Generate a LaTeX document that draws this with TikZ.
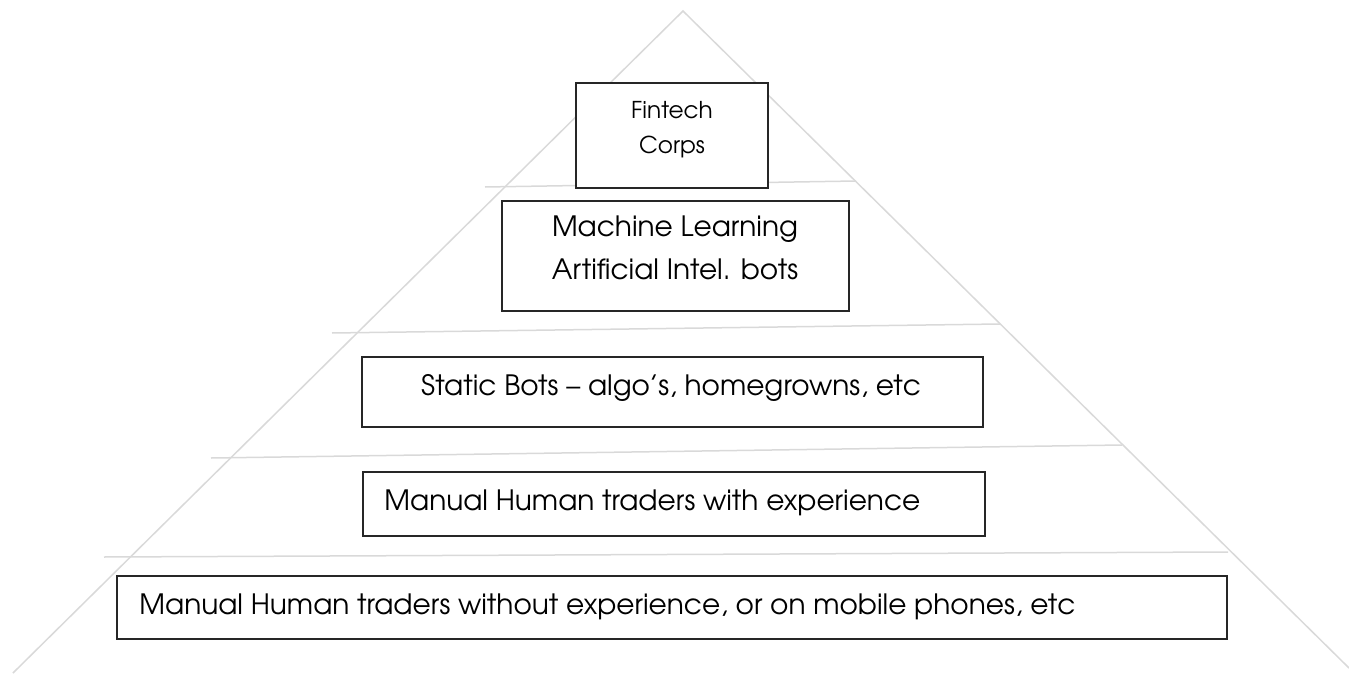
\documentclass[tikz,border=0pt]{standalone}
\usepackage{fontspec}
\setmainfont{texgyreadventor-regular.otf}
\usepackage{tikz}

\begin{document}
\begin{tikzpicture}[x=0.5pt, y=-0.5pt,
    tier/.style={draw=black!85, line width=0.6pt, fill=white, inner sep=0pt},
    tiertext/.style={inner sep=0pt, font=\fontsize{14}{21.5}\selectfont}]

    \colorlet{edgecolor}{black!15}
    \useasboundingbox (0,0) rectangle (1349,674);

    % pyramid outline
    \coordinate (apex) at (683,11);
    \coordinate (baseL) at (13,673);
    \coordinate (baseR) at (1349,668);
    \draw[edgecolor, line width=0.75pt] (baseL) -- (apex) -- (baseR);

    % tier separators
    \draw[edgecolor, line width=0.75pt] (485,187) -- (856,181)
        (332,333) -- (1000,324)
        (211,458) -- (1122,445)
        (104,557) -- (1228,552);

    % boxes
    \node[tier, minimum width=96pt, minimum height=52.5pt] (corps) at (672,135.5) {};
    \node[tier, minimum width=173.5pt, minimum height=55pt] (mlbots) at (675.5,256) {};
    \node[tier, minimum width=310.5pt, minimum height=35pt] (staticbots) at (672.5,392) {};
    \node[tier, minimum width=311pt, minimum height=32pt] (skilled) at (674,504) {};
    \node[tier, minimum width=555pt, minimum height=31.5pt] (novice) at (672,607.5) {};

    % labels
    \node[tiertext, align=center, font=\fontsize{11.6}{17.5}\selectfont] (corps-text) at (672,129.5) {Fintech\\Corps};
    \node[tiertext, align=center] (mlbots-text) at (675,248) {Machine Learning\\Artificial Intel. bots};
    \node[tiertext, anchor=base] (staticbots-text) at (671,395) {Static Bots – algo’s, homegrowns, etc};
    \node[tiertext, anchor=base west] (skilled-text) at (384,510) {Manual Human traders with experience};
    \node[tiertext, anchor=base west] (novice-text) at (139,614) {Manual Human traders without experience, or on mobile phones, etc};
\end{tikzpicture}
\end{document}
